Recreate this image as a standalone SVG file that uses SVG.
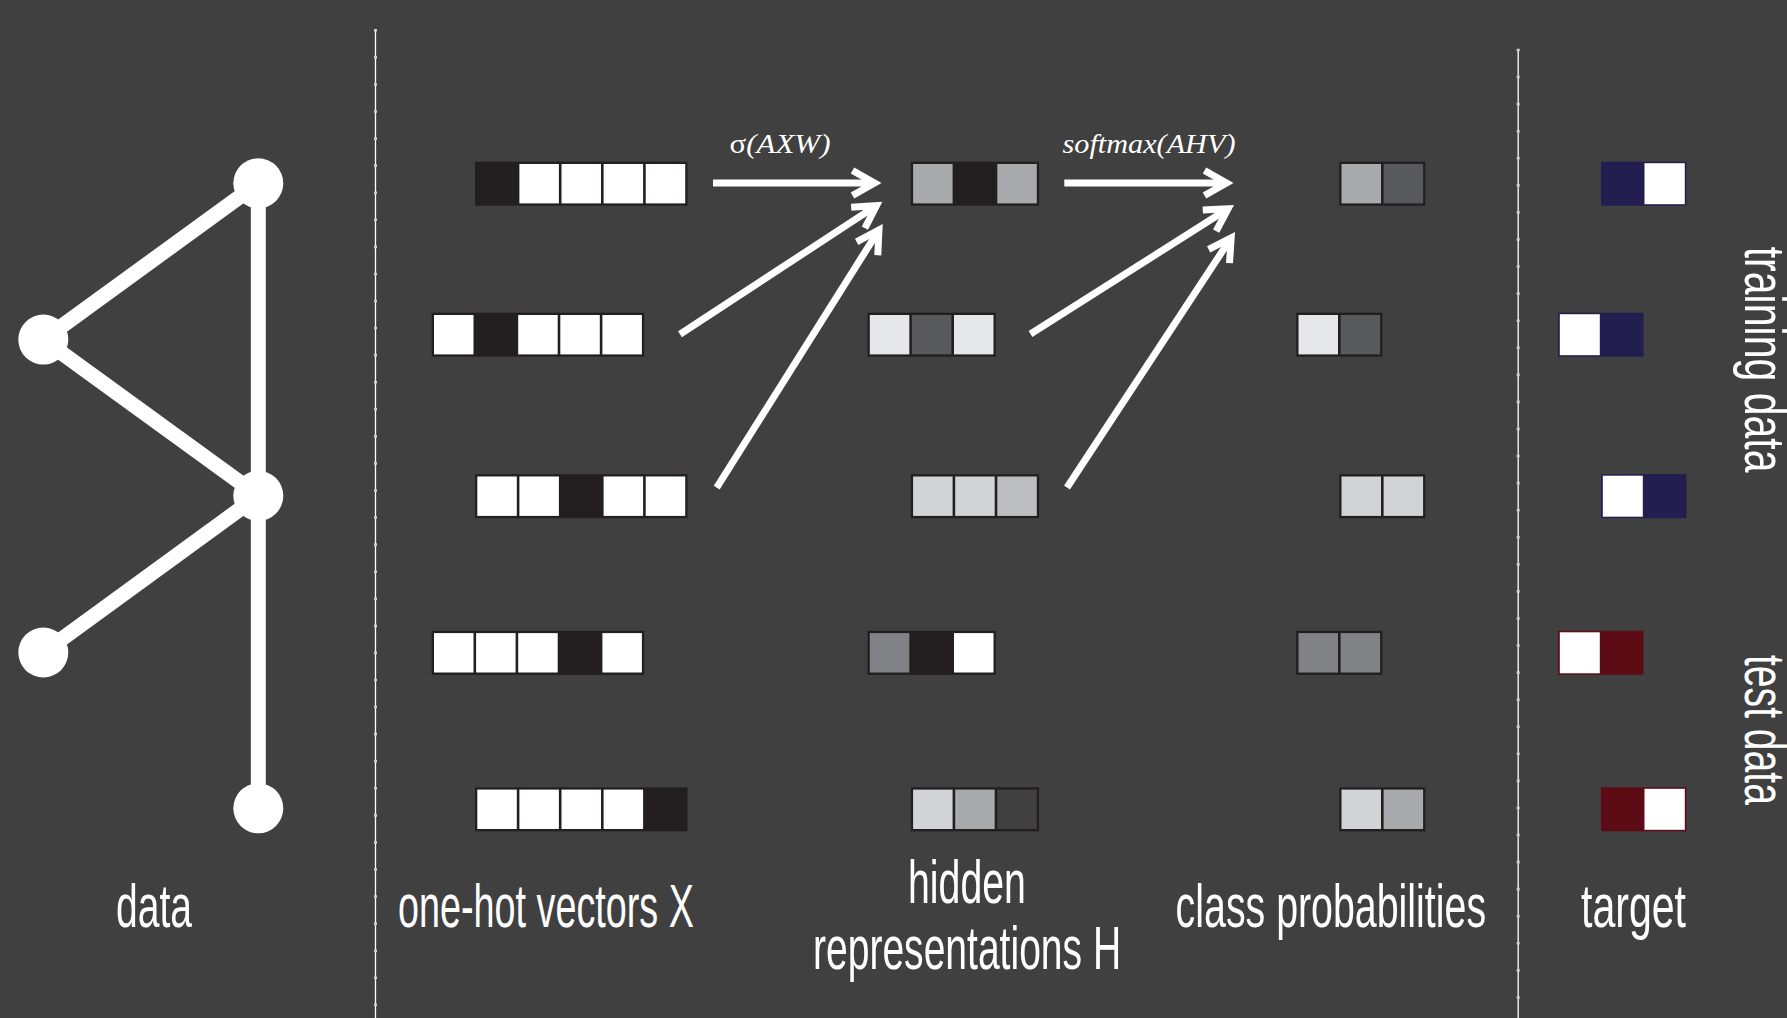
<svg xmlns="http://www.w3.org/2000/svg" width="1787" height="1018" viewBox="0 0 1787 1018">
<style>
.edge{stroke:#fff;stroke-width:15;fill:none}
.node{fill:#fff}
.arrow{stroke:#fff;stroke-width:7;fill:none}
.frame{fill:#231f20}
.lbl{font-family:"Liberation Sans",Arial,sans-serif;font-size:61px;fill:#fff}
.side{font-family:"Liberation Sans",Arial,sans-serif;font-size:57px;fill:#fff}
.fx{font-family:"Liberation Serif","Times New Roman",serif;font-style:italic;font-size:27px;fill:#fff}
.sep{stroke:#fff;stroke-width:1.3}
.tick{stroke:#cfcfcf;stroke-width:3;stroke-dasharray:2.6 24.47}
</style>
<defs>
<marker id="head" markerUnits="userSpaceOnUse" markerWidth="50" markerHeight="50" viewBox="-30 -25 50 50" refX="0" refY="0" orient="auto">
<path d="M-21,-12.5 L1,0 L-21,12.5" fill="none" stroke="#fff" stroke-width="7" stroke-linejoin="miter" stroke-miterlimit="10"/>
</marker>
</defs>
<rect x="0" y="0" width="1787" height="1018" fill="#404040"/>

<g id="separators">
<line class="sep" x1="375.5" y1="29.5" x2="375.5" y2="1018"/>
<line class="tick" x1="375.5" y1="29" x2="375.5" y2="1018"/>
<line class="sep" x1="1518.2" y1="49" x2="1518.2" y2="1018"/>
<line class="tick" x1="1518.2" y1="48.7" x2="1518.2" y2="1018"/>
</g>

<g id="graph-edges">
<line class="edge" x1="258.3" y1="183.3" x2="258.3" y2="808.3"/>
<line class="edge" x1="258.3" y1="183.3" x2="43.3" y2="339.6"/>
<line class="edge" x1="43.3" y1="339.6" x2="258.3" y2="495.8"/>
<line class="edge" x1="258.3" y1="495.8" x2="43.3" y2="652.5"/>
</g>
<g id="g-node1"><circle class="node" cx="258.3" cy="183.3" r="25"/></g>
<g id="g-node2"><circle class="node" cx="43.3" cy="339.6" r="25"/></g>
<g id="g-node3"><circle class="node" cx="258.3" cy="495.8" r="25"/></g>
<g id="g-node4"><circle class="node" cx="43.3" cy="652.5" r="25"/></g>
<g id="g-node5"><circle class="node" cx="258.3" cy="808.3" r="25"/></g>

<!-- one-hot vectors -->
<g id="x1" transform="translate(475,161.7)">
<rect class="frame" width="212.5" height="44"/>
<rect x="44.4" y="2.3" width="39.5" height="39.4" fill="#fff"/><rect x="86.5" y="2.3" width="39.5" height="39.4" fill="#fff"/><rect x="128.6" y="2.3" width="39.5" height="39.4" fill="#fff"/><rect x="170.7" y="2.3" width="39.5" height="39.4" fill="#fff"/>
</g>
<g id="x2" transform="translate(431.7,312.7)">
<rect class="frame" width="212.5" height="44"/>
<rect x="2.3" y="2.3" width="39.5" height="39.4" fill="#fff"/><rect x="86.5" y="2.3" width="39.5" height="39.4" fill="#fff"/><rect x="128.6" y="2.3" width="39.5" height="39.4" fill="#fff"/><rect x="170.7" y="2.3" width="39.5" height="39.4" fill="#fff"/>
</g>
<g id="x3" transform="translate(475,474.2)">
<rect class="frame" width="212.5" height="44"/>
<rect x="2.3" y="2.3" width="39.5" height="39.4" fill="#fff"/><rect x="44.4" y="2.3" width="39.5" height="39.4" fill="#fff"/><rect x="128.6" y="2.3" width="39.5" height="39.4" fill="#fff"/><rect x="170.7" y="2.3" width="39.5" height="39.4" fill="#fff"/>
</g>
<g id="x4" transform="translate(431.7,630.8)">
<rect class="frame" width="212.5" height="44"/>
<rect x="2.3" y="2.3" width="39.5" height="39.4" fill="#fff"/><rect x="44.4" y="2.3" width="39.5" height="39.4" fill="#fff"/><rect x="86.5" y="2.3" width="39.5" height="39.4" fill="#fff"/><rect x="170.7" y="2.3" width="39.5" height="39.4" fill="#fff"/>
</g>
<g id="x5" transform="translate(475,787.3)">
<rect class="frame" width="212.5" height="44"/>
<rect x="2.3" y="2.3" width="39.5" height="39.4" fill="#fff"/><rect x="44.4" y="2.3" width="39.5" height="39.4" fill="#fff"/><rect x="86.5" y="2.3" width="39.5" height="39.4" fill="#fff"/><rect x="128.6" y="2.3" width="39.5" height="39.4" fill="#fff"/>
</g>

<!-- hidden representations -->
<g id="h1" transform="translate(910.8,161.7)">
<rect class="frame" width="128.3" height="44"/>
<rect x="2.3" y="2.3" width="39.5" height="39.4" fill="#a7a9ac"/><rect x="86.5" y="2.3" width="39.5" height="39.4" fill="#a7a9ac"/>
</g>
<g id="h2" transform="translate(867.5,312.7)">
<rect class="frame" width="128.3" height="44"/>
<rect x="2.3" y="2.3" width="39.5" height="39.4" fill="#e6e7e8"/><rect x="44.4" y="2.3" width="39.5" height="39.4" fill="#58595b"/><rect x="86.5" y="2.3" width="39.5" height="39.4" fill="#e6e7e8"/>
</g>
<g id="h3" transform="translate(910.8,474.2)">
<rect class="frame" width="128.3" height="44"/>
<rect x="2.3" y="2.3" width="39.5" height="39.4" fill="#d1d3d4"/><rect x="44.4" y="2.3" width="39.5" height="39.4" fill="#d1d3d4"/><rect x="86.5" y="2.3" width="39.5" height="39.4" fill="#bcbec0"/>
</g>
<g id="h4" transform="translate(867.5,630.8)">
<rect class="frame" width="128.3" height="44"/>
<rect x="2.3" y="2.3" width="39.5" height="39.4" fill="#808285"/><rect x="86.5" y="2.3" width="39.5" height="39.4" fill="#fff"/>
</g>
<g id="h5" transform="translate(910.8,787.3)">
<rect class="frame" width="128.3" height="44"/>
<rect x="2.3" y="2.3" width="39.5" height="39.4" fill="#d1d3d4"/><rect x="44.4" y="2.3" width="39.5" height="39.4" fill="#a7a9ac"/><rect x="86.5" y="2.3" width="39.5" height="39.4" fill="#404040"/>
</g>

<!-- class probabilities -->
<g id="p1" transform="translate(1339.2,161.7)">
<rect class="frame" width="86.2" height="44"/>
<rect x="2.3" y="2.3" width="39.5" height="39.4" fill="#a7a9ac"/><rect x="44.4" y="2.3" width="39.5" height="39.4" fill="#58595b"/>
</g>
<g id="p2" transform="translate(1296.2,312.7)">
<rect class="frame" width="86.2" height="44"/>
<rect x="2.3" y="2.3" width="39.5" height="39.4" fill="#e6e7e8"/><rect x="44.4" y="2.3" width="39.5" height="39.4" fill="#58595b"/>
</g>
<g id="p3" transform="translate(1339.2,474.2)">
<rect class="frame" width="86.2" height="44"/>
<rect x="2.3" y="2.3" width="39.5" height="39.4" fill="#d1d3d4"/><rect x="44.4" y="2.3" width="39.5" height="39.4" fill="#d1d3d4"/>
</g>
<g id="p4" transform="translate(1296.2,630.8)">
<rect class="frame" width="86.2" height="44"/>
<rect x="2.3" y="2.3" width="39.5" height="39.4" fill="#808285"/><rect x="44.4" y="2.3" width="39.5" height="39.4" fill="#808285"/>
</g>
<g id="p5" transform="translate(1339.2,787.3)">
<rect class="frame" width="86.2" height="44"/>
<rect x="2.3" y="2.3" width="39.5" height="39.4" fill="#d1d3d4"/><rect x="44.4" y="2.3" width="39.5" height="39.4" fill="#a7a9ac"/>
</g>

<!-- targets -->
<g id="t1" transform="translate(1601,161.7)">
<rect width="85.5" height="44" fill="#221e50"/><rect x="43.5" y="1.5" width="40.3" height="41" fill="#fff"/>
</g>
<g id="t2" transform="translate(1558,312.7)">
<rect width="85.5" height="44" fill="#221e50"/><rect x="1.8" y="1.5" width="40" height="41" fill="#fff"/>
</g>
<g id="t3" transform="translate(1601,474.2)">
<rect width="85.5" height="44" fill="#221e50"/><rect x="1.8" y="1.5" width="40" height="41" fill="#fff"/>
</g>
<g id="t4" transform="translate(1558,630.8)">
<rect width="85.5" height="44" fill="#5d0c16"/><rect x="1.8" y="1.5" width="40" height="41" fill="#fff"/>
</g>
<g id="t5" transform="translate(1601,787.3)">
<rect width="85.5" height="44" fill="#5d0c16"/><rect x="43.5" y="1.5" width="40.3" height="41" fill="#fff"/>
</g>

<g id="connectors">
<path class="arrow" d="M713,183 L873.5,183" marker-end="url(#head)"/>
<path class="arrow" d="M680,334.3 L875.6,206.1" marker-end="url(#head)"/>
<path class="arrow" d="M716.7,487.7 L878.4,230.8" marker-end="url(#head)"/>
<path class="arrow" d="M1064.3,183 L1225.5,183" marker-end="url(#head)"/>
<path class="arrow" d="M1030.5,334 L1227.2,209.3" marker-end="url(#head)"/>
<path class="arrow" d="M1067,487.5 L1230.6,238.7" marker-end="url(#head)"/>
</g>

<g id="formulas">
<text class="fx" x="729.5" y="153.3" textLength="101" lengthAdjust="spacingAndGlyphs"><tspan font-style="normal">σ</tspan>(AXW)</text>
<text class="fx" x="1062.5" y="153.3" textLength="173" lengthAdjust="spacingAndGlyphs">softmax(AHV)</text>
</g>

<g id="labels">
<text class="lbl" transform="translate(116,927) scale(0.640,1)">data</text>
<text class="lbl" transform="translate(398,926.5) scale(0.619,1)">one-hot vectors X</text>
<text class="lbl" transform="translate(908,902.7) scale(0.644,1)">hidden</text>
<text class="lbl" transform="translate(813,969.3) scale(0.640,1)">representations H</text>
<text class="lbl" transform="translate(1175.6,926.7) scale(0.645,1)">class probabilities</text>
<text class="lbl" transform="translate(1581,926.6) scale(0.673,1)">target</text>
<text class="side" transform="translate(1745,246.7) rotate(90) scale(0.720,1)">training data</text>
<text class="side" transform="translate(1745,655) rotate(90) scale(0.686,1)">test data</text>
</g>
</svg>
